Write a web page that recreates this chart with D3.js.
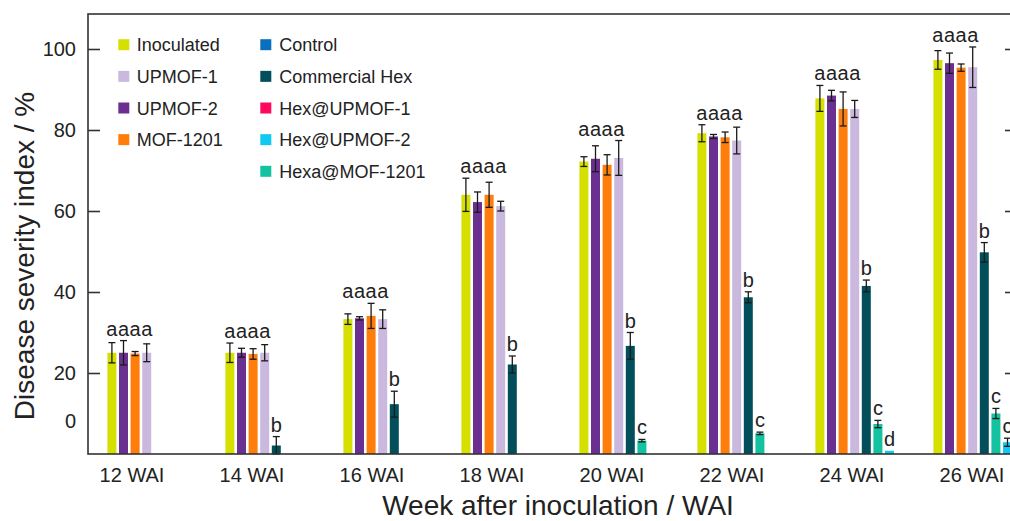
<!DOCTYPE html>
<html>
<head>
<meta charset="utf-8">
<script src="https://cdn.jsdelivr.net/npm/d3@7"></script>
<style>
  body { margin: 0; background: #fff; }
  svg { display: block; font-family: "Liberation Sans", Arial, sans-serif; }
</style>
</head>
<body>
<svg id="chart" width="1010" height="521"></svg>
<script>
// ---------------- data ----------------
const categories = ["12 WAI", "14 WAI", "16 WAI", "18 WAI", "20 WAI", "22 WAI", "24 WAI", "26 WAI"];

const inoculated      = [25.0, 25.0, 33.3, 64.0, 72.2, 79.2, 87.8, 97.3];
const inoculatedErr   = [2.5, 2.4, 1.3, 4.1, 1.2, 2.1, 3.2, 2.3];
const upmof2          = [25.0, 25.0, 33.5, 62.2, 72.9, 78.4, 88.5, 96.5];
const upmof2Err       = [3.0, 1.1, 0.4, 2.5, 3.2, 0.5, 1.3, 2.5];
const mof1201         = [24.8, 24.7, 34.1, 64.0, 71.4, 78.2, 85.2, 95.4];
const mof1201Err      = [0.5, 1.3, 3.1, 3.1, 2.5, 1.3, 4.2, 0.9];
const upmof1          = [25.0, 25.0, 33.3, 61.2, 73.1, 77.4, 85.2, 95.5];
const upmof1Err       = [2.2, 2.0, 2.3, 1.2, 4.3, 3.3, 2.1, 5.0];
const commercialHex   = [0, 2.1, 12.3, 22.1, 26.7, 38.7, 41.5, 49.8];
const commercialHexErr= [0, 2.2, 3.2, 2.1, 3.3, 1.35, 1.45, 2.4];
const hexaMof1201     = [0, 0, 0, 0, 3.3, 5.1, 7.4, 10.0];
const hexaMof1201Err  = [0, 0, 0, 0, 0.3, 0.3, 0.9, 1.25];
const hexUpmof2       = [0, 0, 0, 0, 0, 0, 0.8, 2.9];
const hexUpmof2Err    = [0, 0, 0, 0, 0, 0, 0, 1.0];
const control         = [0, 0, 0, 0, 0, 0, 0, 0];
const controlErr      = [0, 0, 0, 0, 0, 0, 0, 0];
const hexUpmof1       = [0, 0, 0, 0, 0, 0, 0, 0];
const hexUpmof1Err    = [0, 0, 0, 0, 0, 0, 0, 0];

const lettersA            = ["a", "a", "a", "a", "a", "a", "a", "a"];
const commercialHexLetters= ["", "b", "b", "b", "b", "b", "b", "b"];
const hexaMof1201Letters  = ["", "", "", "", "c", "c", "c", "c"];
const hexUpmof2Letters    = ["", "", "", "", "", "", "d", "c"];
const noLetters           = ["", "", "", "", "", "", "", ""];

const yTickValues = [0, 20, 40, 60, 80, 100];
const yTickLabels = ["0", "20", "40", "60", "80", "100"];

// series in bar order within each group
const series = [
  { name: "Inoculated",     color: "#d5e000", values: inoculated,    err: inoculatedErr,    letters: lettersA },
  { name: "UPMOF-2",        color: "#6b2f91", values: upmof2,        err: upmof2Err,        letters: lettersA },
  { name: "MOF-1201",       color: "#ff7d0a", values: mof1201,       err: mof1201Err,       letters: lettersA },
  { name: "UPMOF-1",        color: "#cbb8de", values: upmof1,        err: upmof1Err,        letters: lettersA },
  { name: "Commercial Hex", color: "#024f5b", values: commercialHex, err: commercialHexErr, letters: commercialHexLetters },
  { name: "Hexa@MOF-1201",  color: "#12c2a0", values: hexaMof1201,   err: hexaMof1201Err,   letters: hexaMof1201Letters },
  { name: "Hex@UPMOF-2",    color: "#11c8f2", values: hexUpmof2,     err: hexUpmof2Err,     letters: hexUpmof2Letters },
  { name: "Control",        color: "#0a6fbd", values: control,       err: controlErr,       letters: noLetters },
  { name: "Hex@UPMOF-1",    color: "#ff0a5a", values: hexUpmof1,     err: hexUpmof1Err,     letters: noLetters }
];
const colorOf = Object.fromEntries(series.map(s => [s.name, s.color]));
const legendCol1 = ["Inoculated", "UPMOF-1", "UPMOF-2", "MOF-1201"];
const legendCol2 = ["Control", "Commercial Hex", "Hex@UPMOF-1", "Hex@UPMOF-2", "Hexa@MOF-1201"];

// ---------------- layout ----------------
const svg = d3.select("#chart");
const textColor = "#222";
const axisColor = "#333";
const frameL = 88, frameR = 1017, frameT = 14, frameB = 454;

const y = d3.scaleLinear().domain([0, 100]).range([454, 49]);
const xGroup = d3.scaleBand().domain(categories).range([107.4, 107.4 + 8 * 118]).paddingInner(0);
const xInner = d3.scaleBand().domain(series.map(s => s.name)).range([0, 101.8]).paddingInner(0.224).paddingOuter(0);
const xLabel = d3.scalePoint().domain(categories).range([131.5, 971.5]);

// bars
const barData = [];
series.forEach(s => categories.forEach((c, i) => {
  barData.push({ s: s.name, color: s.color, cat: c, i, v: s.values[i], e: s.err[i], letter: s.letters[i] });
}));

const gBars = svg.append("g");
gBars.selectAll("rect").data(barData.filter(d => d.v > 0)).join("rect")
  .attr("x", d => xGroup(d.cat) + xInner(d.s))
  .attr("width", xInner.bandwidth())
  .attr("y", d => y(d.v))
  .attr("height", d => y(0) - y(d.v))
  .attr("fill", d => d.color);

// error bars
const capW = 7;
const gErr = svg.append("g").attr("stroke", "#1a1a1a").attr("stroke-width", 1.3);
barData.filter(d => d.v > 0 && d.e > 0).forEach(d => {
  const cx = xGroup(d.cat) + xInner(d.s) + xInner.bandwidth() / 2;
  const y1 = y(d.v + d.e), y2 = y(Math.max(0, d.v - d.e));
  gErr.append("line").attr("x1", cx).attr("x2", cx).attr("y1", y1).attr("y2", y2);
  gErr.append("line").attr("x1", cx - capW / 2).attr("x2", cx + capW / 2).attr("y1", y1).attr("y2", y1);
  gErr.append("line").attr("x1", cx - capW / 2).attr("x2", cx + capW / 2).attr("y1", y2).attr("y2", y2);
});

// significance letters
const gLet = svg.append("g").attr("font-size", 20).attr("fill", textColor).attr("text-anchor", "middle");
categories.forEach((c, i) => {
  const aBars = barData.filter(d => d.i === i && d.letter === "a");
  const aBase = d3.min(aBars, d => y(d.v + d.e)) - 5;
  barData.filter(d => d.i === i && d.letter).forEach(d => {
    const cx = xGroup(d.cat) + xInner(d.s) + xInner.bandwidth() / 2;
    const base = d.letter === "a" ? aBase : y(d.v + d.e) - 5;
    gLet.append("text").attr("x", cx).attr("y", base).text(d.letter);
  });
});

// frame
svg.append("rect").attr("x", frameL).attr("y", frameT).attr("width", frameR - frameL).attr("height", frameB - frameT)
  .attr("fill", "none").attr("stroke", axisColor).attr("stroke-width", 1.6);

// left ticks (inward)
const leftTicks = svg.append("g").attr("transform", `translate(${frameL},0)`)
  .call(d3.axisRight(y).tickValues(yTickValues.slice(1)).tickSize(12).tickFormat(""));
leftTicks.select(".domain").remove();
leftTicks.selectAll("line").attr("stroke", axisColor).attr("stroke-width", 1.6);

// right ticks (inward)
const rightTicks = svg.append("g").attr("transform", `translate(${frameR},0)`)
  .call(d3.axisLeft(y).tickValues(yTickValues.slice(1)).tickSize(12).tickFormat(""));
rightTicks.select(".domain").remove();
rightTicks.selectAll("line").attr("stroke", axisColor).attr("stroke-width", 1.6);

// y tick labels
const yLabels = svg.append("g").attr("transform", `translate(78,0)`)
  .call(d3.axisLeft(y).tickValues(yTickValues).tickSize(0).tickFormat((d, i) => yTickLabels[i]));
yLabels.select(".domain").remove();
yLabels.selectAll("text").attr("font-size", 20).attr("fill", textColor)
  .attr("font-family", "'Liberation Sans', Arial, sans-serif").attr("x", -2);
yLabels.selectAll(".tick").filter(d => d === 0).attr("transform", `translate(0,${y(0) - 32})`);

// x labels
const xAx = svg.append("g").attr("transform", `translate(0,${frameB})`)
  .call(d3.axisBottom(xLabel).tickSize(0));
xAx.select(".domain").remove();
xAx.selectAll("text").attr("font-size", 20).attr("fill", textColor)
  .attr("font-family", "'Liberation Sans', Arial, sans-serif").attr("y", 14);

// axis titles
svg.append("text").attr("x", 558).attr("y", 515).attr("text-anchor", "middle")
  .attr("font-size", 28).attr("fill", textColor).text("Week after inoculation / WAI");
svg.append("text").attr("transform", "translate(34,256) rotate(-90)").attr("text-anchor", "middle")
  .attr("font-size", 28).attr("fill", textColor).text("Disease severity index / %");

// legend
const gLeg = svg.append("g").attr("font-size", 18).attr("fill", textColor);
function legendColumn(names, sqX, txX) {
  names.forEach((n, k) => {
    const cy = 44.7 + k * 31.65;
    gLeg.append("rect").attr("x", sqX).attr("y", cy - 5.5).attr("width", 11).attr("height", 11).attr("fill", colorOf[n]);
    gLeg.append("text").attr("x", txX).attr("y", cy + 6.5).text(n);
  });
}
legendColumn(legendCol1, 118.3, 136.7);
legendColumn(legendCol2, 260.3, 279.3);
</script>
</body>
</html>
